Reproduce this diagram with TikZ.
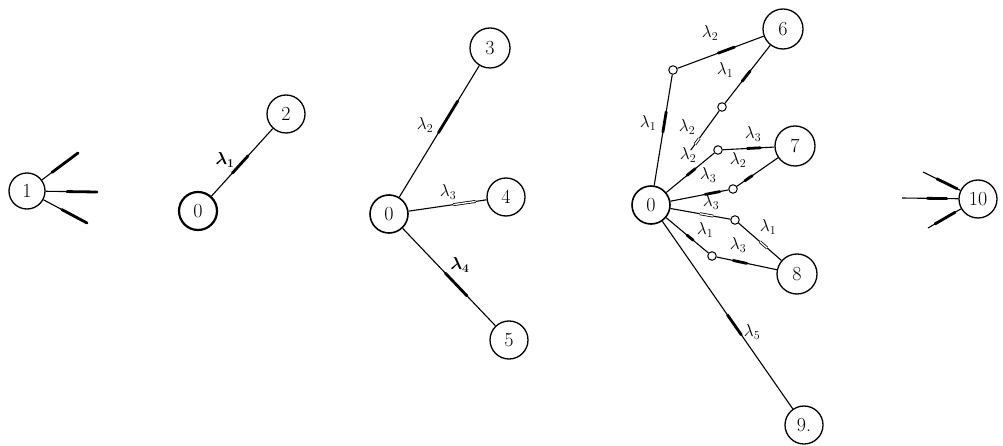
\documentclass[tikz,border=0pt]{standalone}
\usetikzlibrary{calc}
\newcommand\amk[5][mk]{\draw[#1] ($(#2)!#4!(#3)$) -- ($(#2)!#5!(#3)$);}
\begin{document}
\begin{tikzpicture}[x=1pt,y=-1pt,
  state/.style={circle, draw, line width=1.3pt, minimum size=38pt, inner sep=0pt, font=\fontsize{20}{20}\selectfont},
  boldstate/.style={state, line width=2.2pt},
  dot/.style={circle, draw, line width=1pt, minimum size=8.5pt, inner sep=0pt, fill=white},
  conn/.style={line width=1.1pt},
  mk/.style={line width=2.8pt, line cap=round},
  hmk/.style={line width=0.8pt, double=white, double distance=1.3pt},
  lab/.style={font=\fontsize{17}{17}\selectfont, inner sep=0pt},
  blab/.style={font={\fontsize{17}{17}\selectfont\boldmath}, inner sep=0pt}]
\useasboundingbox (0,0) rectangle (1003,446);

% ---- diagram 1
\node[state, minimum size=36pt] (n1) at (27,191) {1};
\coordinate (s1a) at (78,153);
\coordinate (s1b) at (97,192);
\coordinate (s1c) at (87,223);
\draw[conn] (n1) -- (s1a);
\draw[conn] (n1) -- (s1b);
\draw[conn] (n1) -- (s1c);
\amk{n1}{s1a}{0.49}{1}
\amk{n1}{s1b}{0.57}{1}
\amk{n1}{s1c}{0.58}{1}

% ---- diagram 2
\node[boldstate] (d20) at (198,211) {0};
\node[state] (n2) at (286,114) {2};
\draw[conn] (d20) -- (n2);
\amk{d20}{n2}{0.39}{0.57}
\node[blab] (l21) at (225,160) {$\lambda_1$};

% ---- diagram 3
\node[state, line width=1.6pt] (d30) at (389,214) {0};
\node[state, minimum size=40pt] (n3) at (490,48) {3};
\node[state] (n4) at (506,197) {4};
\node[state] (n5) at (509,340) {5};
\draw[conn] (d30) -- (n3);
\draw[conn] (d30) -- (n4);
\draw[conn] (d30) -- (n5);
\amk{d30}{n3}{0.49}{0.68}
\amk[hmk]{d30}{n4}{0.55}{0.74}
\amk{d30}{n5}{0.47}{0.65}
\node[lab] (l32) at (425,125) {$\lambda_2$};
\node[lab] (l33) at (448,192) {$\lambda_3$};
\node[blab] (l34) at (460,265) {$\lambda_4$};

% ---- diagram 4
\node[state, line width=1.6pt] (d40) at (651,205) {0};
\node[state, minimum size=40pt] (n6) at (783,29) {6};
\node[state, minimum size=40pt] (n7) at (795,146) {7};
\node[state, minimum size=40pt] (n8) at (797,274) {8};
\node[state] (n9) at (804,425) {9.};
\node[dot] (c1) at (673,70) {};
\node[dot] (c2) at (722,107) {};
\node[dot] (c3) at (718,150) {};
\node[dot] (c4) at (733,189) {};
\node[dot] (c5) at (735,220) {};
\node[dot] (c6) at (712,256) {};
\coordinate (c2end) at ($(d40)!0.56!(c2)$);

\draw[conn] (d40) -- (c1);
\draw[conn] (c1) -- (n6);
\draw[conn] (c2end) -- (c2);
\draw[conn] (c2) -- (n6);
\draw[conn] (d40) -- (c3);
\draw[conn] (c3) -- (n7);
\draw[conn] (d40) -- (c4);
\draw[conn] (c4) -- (n7);
\draw[conn] (d40) -- (c5);
\draw[conn] (c5) -- (n8);
\draw[conn] (d40) -- (c6);
\draw[conn] (c6) -- (n8);
\draw[conn] (d40) -- (n9);

\amk{d40}{c1}{0.54}{0.69}
\amk{c1}{n6}{0.41}{0.56}
\amk{c2}{n6}{0.33}{0.46}
\amk[hmk]{d40}{c2}{0.62}{0.68}
\amk{d40}{c3}{0.54}{0.66}
\amk{c3}{n7}{0.38}{0.55}
\amk{d40}{c4}{0.66}{0.84}
\amk{c4}{n7}{0.19}{0.31}
\amk[hmk]{d40}{c5}{0.58}{0.74}
\amk[hmk]{c5}{n8}{0.40}{0.52}
\amk{d40}{c6}{0.59}{0.69}
\amk{c6}{n8}{0.25}{0.41}
\amk{d40}{n9}{0.50}{0.59}

\node[lab] (l4a) at (710,33) {$\lambda_2$};
\node[lab] (l4b) at (725,70) {$\lambda_1$};
\node[lab] (l4c) at (648,123) {$\lambda_1$};
\node[lab] (l4d) at (687,127) {$\lambda_2$};
\node[lab] (l4e) at (688,155) {$\lambda_2$};
\node[lab] (l4f) at (753,134) {$\lambda_3$};
\node[lab] (l4g) at (708,175) {$\lambda_3$};
\node[lab] (l4h) at (738,160) {$\lambda_2$};
\node[lab] (l4i) at (711,202) {$\lambda_3$};
\node[lab] (l4j) at (768,227) {$\lambda_1$};
\node[lab] (l4k) at (705,230) {$\lambda_1$};
\node[lab] (l4l) at (738,245) {$\lambda_3$};
\node[lab] (l4m) at (752,332) {$\lambda_5$};

% ---- diagram 5
\node[state] (n10) at (978,199) {10};
\coordinate (s10a) at (923,172);
\coordinate (s10b) at (902,198);
\coordinate (s10c) at (928,228);
\draw[conn] (s10a) -- (n10);
\draw[conn] (s10b) -- (n10);
\draw[conn] (s10c) -- (n10);
\amk{s10a}{n10}{0.25}{0.62}
\amk{s10b}{n10}{0.33}{0.59}
\amk{s10c}{n10}{0.14}{0.54}
\end{tikzpicture}
\end{document}
